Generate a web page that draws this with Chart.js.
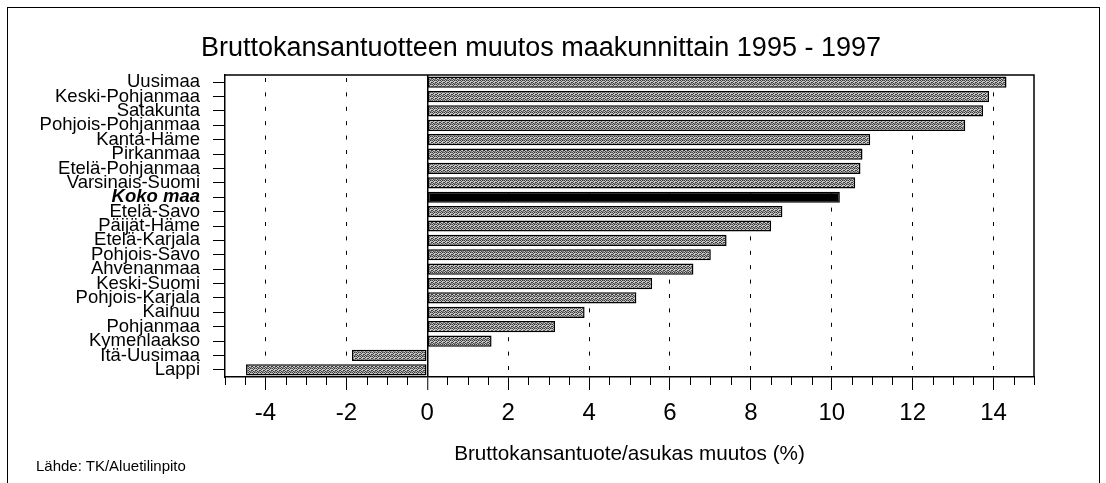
<!DOCTYPE html>
<html>
<head>
<meta charset="utf-8">
<script src="https://cdn.jsdelivr.net/npm/chart.js@4/dist/chart.umd.min.js"></script>
<style>
  html, body { margin: 0; padding: 0; background: #fff; }
  #wrap { position: relative; width: 1106px; height: 483px; overflow: hidden; background: #fff; }
  #frame { position: absolute; left: 7px; top: 7px; width: 1093px; height: 520px;
           border: 1.5px solid #000; box-sizing: border-box; }
  #title { position: absolute; left: 0; width: 1082px; top: 30px; text-align: center;
           font: 27px "Liberation Sans", Arial, sans-serif; color: #000; line-height: 34px; white-space: nowrap; }
  #source { position: absolute; left: 36px; top: 457px;
            font: 15px "Liberation Sans", Arial, sans-serif; color: #000; white-space: nowrap; }
  canvas { position: absolute; left: 0; top: 0; }
</style>
</head>
<body>
<div id="wrap">
  <div id="frame"></div>
  <canvas id="chart" width="1106" height="483"></canvas>
  <div id="title">Bruttokansantuotteen muutos maakunnittain 1995 - 1997</div>
  <div id="source">Lähde: TK/Aluetilinpito</div>
</div>
<script>
// Regions, top to bottom
const regions = [
  'Uusimaa', 'Keski-Pohjanmaa', 'Satakunta', 'Pohjois-Pohjanmaa', 'Kanta-Häme',
  'Pirkanmaa', 'Etelä-Pohjanmaa', 'Varsinais-Suomi', 'Koko maa', 'Etelä-Savo',
  'Päijät-Häme', 'Etelä-Karjala', 'Pohjois-Savo', 'Ahvenanmaa', 'Keski-Suomi',
  'Pohjois-Karjala', 'Kainuu', 'Pohjanmaa', 'Kymenlaakso', 'Itä-Uusimaa', 'Lappi'
];

// Change in GDP per inhabitant 1995-1997, %
const changePct = [
  14.32, 13.89, 13.74, 13.30, 10.95,
  10.76, 10.71, 10.58, 10.20, 8.78,
  8.50, 7.40, 7.01, 6.58, 5.56,
  5.17, 3.89, 3.16, 1.59, -1.86, -4.48
];

// Whole-country row, drawn solid black with a bold italic label
const wholeCountry = 'Koko maa';

// Labelled x ticks (minor ticks every 0.5 between them)
const xTickLabels = ['-4', '-2', '0', '2', '4', '6', '8', '10', '12', '14'];

const FONT = "'Liberation Sans', Arial, sans-serif";

// Stippled grey fill for the regional bars
function stipple() {
  const c = document.createElement('canvas');
  c.width = 4; c.height = 4;
  const g = c.getContext('2d');
  g.fillStyle = '#c8c8c8';
  g.fillRect(0, 0, 4, 4);
  g.fillStyle = '#3c3c3c';
  [[0,0],[2,0],[1,1],[3,2],[0,2],[1,3]].forEach(([x, y]) => g.fillRect(x, y, 1, 1));
  g.fillStyle = '#808080';
  [[3,0],[2,3],[3,3]].forEach(([x, y]) => g.fillRect(x, y, 1, 1));
  return g.createPattern(c, 'repeat');
}
const barFill = stipple();

const isEven = v => Number.isFinite(v) && Math.abs(v % 2) < 1e-9;

// Frame around the plotting area and the short minor ticks on the value axis
const framePlugin = {
  id: 'frame',
  afterDraw(chart) {
    const { ctx, chartArea: a } = chart;
    const xs = chart.scales.x;
    ctx.save();
    ctx.strokeStyle = '#000';
    ctx.lineWidth = 1.5;
    ctx.beginPath();
    ctx.moveTo(a.left, a.top);
    ctx.lineTo(a.right, a.top);
    ctx.lineTo(a.right, a.bottom);
    ctx.stroke();
    ctx.lineWidth = 1;
    xs.ticks.forEach(t => {
      if (isEven(t.value)) return;
      const px = Math.round(xs.getPixelForValue(t.value)) + 0.5;
      ctx.beginPath();
      ctx.moveTo(px, a.bottom);
      ctx.lineTo(px, a.bottom + 8);
      ctx.stroke();
    });
    ctx.restore();
  }
};

new Chart(document.getElementById('chart'), {
  type: 'bar',
  data: {
    labels: regions,
    datasets: [{
      data: changePct,
      backgroundColor: regions.map(r => r === wholeCountry ? '#000' : barFill),
      borderColor: '#000',
      borderWidth: 1.5,
      borderSkipped: false,
      barPercentage: 0.78,
      categoryPercentage: 1
    }]
  },
  options: {
    indexAxis: 'y',
    responsive: false,
    animation: false,
    events: [],
    layout: { padding: { left: 0, right: 72, top: 75, bottom: 0 } },
    plugins: { legend: { display: false }, tooltip: { enabled: false }, title: { display: false } },
    scales: {
      x: {
        type: 'linear',
        position: 'bottom',
        min: -5,
        max: 15,
        afterFit: s => { s.height = 106; },
        ticks: {
          stepSize: 0.5,
          autoSkip: false,
          maxRotation: 0,
          padding: 9,
          color: '#000',
          font: { family: FONT, size: 24 },
          callback: v => xTickLabels.includes(String(v)) ? String(v) : ''
        },
        grid: {
          drawOnChartArea: true,
          drawTicks: true,
          tickLength: 13,
          color: c => (c.tick && isEven(c.tick.value) && c.tick.value > -5 && c.tick.value < 15) ? '#000' : 'rgba(0,0,0,0)',
          lineWidth: c => (c.tick && c.tick.value === 0) ? 1.5 : 1,
          tickColor: c => (c.tick && isEven(c.tick.value)) ? '#000' : 'rgba(0,0,0,0)',
          tickWidth: 1
        },
        border: {
          display: true,
          color: '#000',
          width: 1.5,
          dash: c => (c.tick && c.tick.value === 0) ? [] : [4, 10.4],
          dashOffset: 11.4
        },
        title: {
          display: true,
          text: 'Bruttokansantuote/asukas muutos (%)',
          color: '#000',
          font: { family: FONT, size: 20.7 },
          padding: { top: 0, bottom: 16 }
        }
      },
      y: {
        type: 'category',
        position: 'left',
        afterFit: s => { s.width = 225; },
        ticks: {
          autoSkip: false,
          padding: 13,
          color: '#000',
          font: c => (regions[c.index] === wholeCountry)
            ? { family: FONT, size: 18.5, weight: 'bold', style: 'italic' }
            : { family: FONT, size: 18.5 }
        },
        grid: {
          offset: false,
          drawOnChartArea: false,
          drawTicks: true,
          tickLength: 12,
          color: '#000',
          tickColor: '#000',
          lineWidth: 1
        },
        border: { display: true, color: '#000', width: 1.5 }
      }
    }
  },
  plugins: [framePlugin]
});
</script>
</body>
</html>
